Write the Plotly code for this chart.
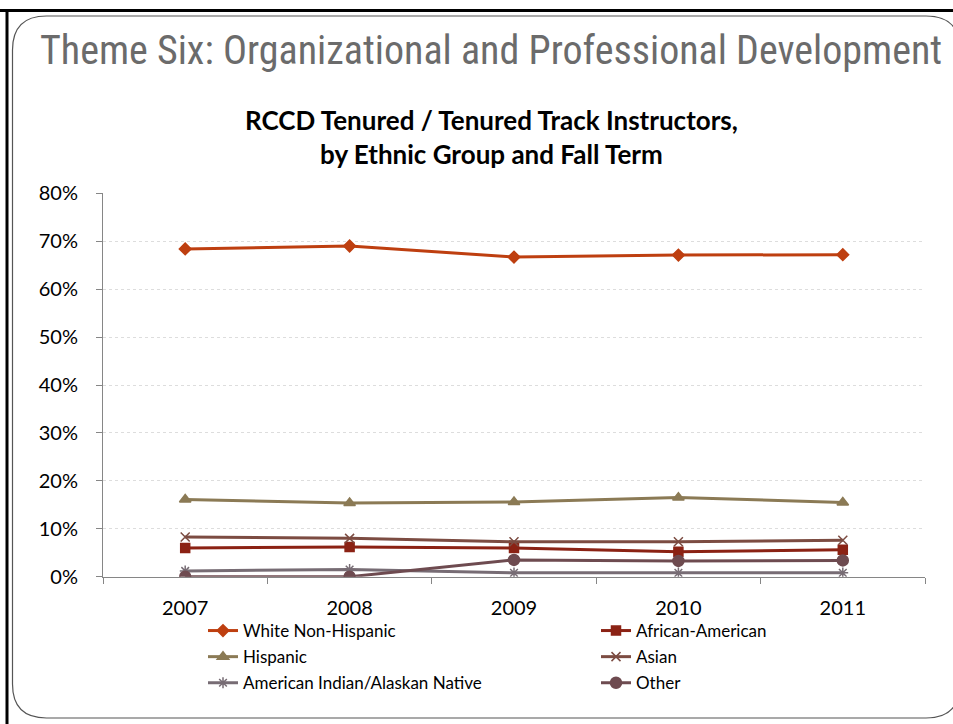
import plotly.graph_objects as go

W, H = 953, 724

years = ["2007", "2008", "2009", "2010", "2011"]
white_non_hispanic = [0.684, 0.690, 0.667, 0.671, 0.672]
african_american = [0.060, 0.062, 0.060, 0.052, 0.056]
hispanic = [0.161, 0.154, 0.156, 0.165, 0.155]
asian = [0.083, 0.080, 0.073, 0.073, 0.076]
american_indian = [0.012, 0.015, 0.008, 0.008, 0.008]
other = [0.000, 0.000, 0.035, 0.033, 0.034]
y_ticks = [0, 0.1, 0.2, 0.3, 0.4, 0.5, 0.6, 0.7, 0.8]
y_tick_labels = ["0%", "10%", "20%", "30%", "40%", "50%", "60%", "70%", "80%"]

# name, values, colour, marker, size, legend column
series = [
    ("White Non-Hispanic", white_non_hispanic, "#BE3F10", "diamond", 9, "legend"),
    ("African-American", african_american, "#8B2214", "square", 9, "legend2"),
    ("Hispanic", hispanic, "#8B7A55", "triangle-up", 10, "legend"),
    ("Asian", asian, "#7C4C42", "x-thin-open", 9, "legend2"),
    ("American Indian/Alaskan Native", american_indian, "#776C74", "asterisk-open", 9, "legend"),
    ("Other", other, "#6E4B50", "circle", 11, "legend2"),
]

fig = go.Figure()
for name, vals, color, sym, size, leg in series:
    fig.add_trace(go.Scatter(
        x=years, y=vals, name=name, mode="lines+markers",
        line=dict(color=color, width=3),
        marker=dict(symbol=sym, size=size, color=color,
                    line=dict(color=color, width=1.5)),
        legend=leg, legendgroup=name,
    ))

def px(x):
    return x / W

def py(y):
    return 1 - y / H

font_main = "Lato, 'Open Sans', sans-serif"

legend_common = dict(
    orientation="v", xanchor="left", yanchor="top",
    font=dict(family=font_main, size=17, color="#000000"),
    tracegroupgap=1, itemwidth=30, bgcolor="rgba(0,0,0,0)",
)

fig.update_layout(
    template="none",
    width=W, height=H, autosize=False,
    margin=dict(l=0, r=0, t=0, b=0, pad=0, autoexpand=False),
    paper_bgcolor="white", plot_bgcolor="white",
    showlegend=True,
    legend=dict(x=px(203), y=py(613), **legend_common),
    legend2=dict(x=px(596), y=py(613), **legend_common),
    xaxis=dict(
        domain=[px(103), px(925)], type="category", range=[-0.5, 4.5],
        showline=True, linecolor="#868686", linewidth=1,
        ticks="outside", tickson="boundaries", ticklen=6, tickcolor="#868686",
        showgrid=False, zeroline=False, automargin=False,
        tickfont=dict(family=font_main, size=20, color="#000000"),
        ticklabelstandoff=13, fixedrange=True,
    ),
    yaxis=dict(
        domain=[py(576.7), py(193.3)], range=[0, 0.8],
        tickvals=y_ticks, ticktext=y_tick_labels,
        showline=True, linecolor="#868686", linewidth=1,
        ticks="outside", ticklen=6, tickcolor="#868686",
        showgrid=True, gridcolor="#DDDDDD", gridwidth=1, griddash="dot",
        zeroline=False, automargin=False,
        tickfont=dict(family=font_main, size=20, color="#000000"),
        ticklabelstandoff=14, fixedrange=True,
    ),
    annotations=[
        dict(text="Theme Six: Organizational and Professional Development",
             x=px(38), y=py(51), xref="paper", yref="paper",
             xanchor="left", yanchor="middle", showarrow=False,
             font=dict(family="'Roboto Condensed', 'Liberation Sans Narrow', Roboto, sans-serif",
                       size=40, color="#6B6B6B")),
        dict(text="<b>RCCD Tenured / Tenured Track Instructors,<br>by Ethnic Group and Fall Term</b>",
             x=px(491), y=py(137), xref="paper", yref="paper",
             xanchor="center", yanchor="middle", showarrow=False,
             font=dict(family=font_main, size=26, color="#000000"), align="center"),
    ],
)

r = 34
L, T, R, B = 12.5, 16, 960, 718
path = (f"M {px(L)},{py(T + r)} Q {px(L)},{py(T)} {px(L + r)},{py(T)} "
        f"L {px(R - r)},{py(T)} Q {px(R)},{py(T)} {px(R)},{py(T + r)} "
        f"L {px(R)},{py(B - r)} Q {px(R)},{py(B)} {px(R - r)},{py(B)} "
        f"L {px(L + r)},{py(B)} Q {px(L)},{py(B)} {px(L)},{py(B - r)} Z")

fig.add_shape(type="path", path=path, xref="paper", yref="paper",
              line=dict(color="#555555", width=1.2), layer="below")
fig.add_shape(type="line", x0=0, x1=1, y0=py(10.5), y1=py(10.5), xref="paper", yref="paper",
              line=dict(color="#000000", width=3))
fig.add_shape(type="line", x0=px(7), x1=px(7), y0=py(10), y1=0, xref="paper", yref="paper",
              line=dict(color="#000000", width=3))

fig.write_html("out.html", config={"displayModeBar": False},
               post_script="document.body.style.margin='0';")
